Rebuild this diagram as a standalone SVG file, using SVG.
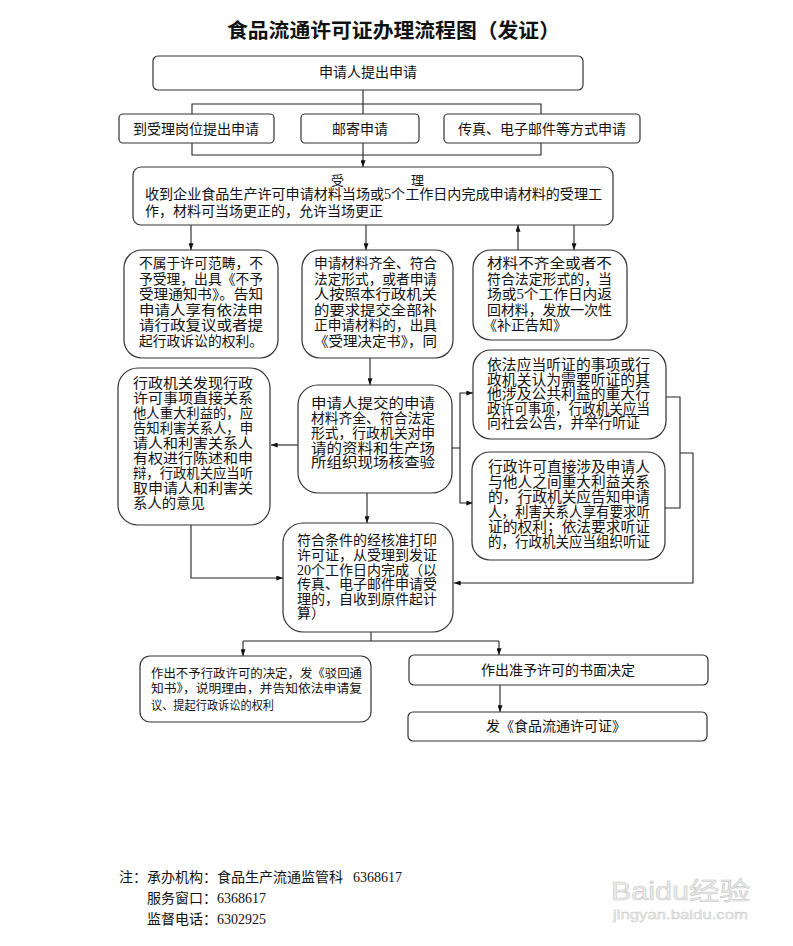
<svg xmlns="http://www.w3.org/2000/svg" width="793" height="946" viewBox="0 0 793 946">
<style>
.bx{fill:#fff;stroke:#333;stroke-width:1.2}
.t{font-family:"Liberation Serif","Noto Sans CJK SC",sans-serif;font-size:14px;fill:#111}
.c{text-anchor:middle}
.ln{fill:none;stroke:#222;stroke-width:1.1}
.wm{font-family:"Liberation Sans","Noto Sans CJK SC",sans-serif;fill:#eee;stroke:#c8c8c8;stroke-width:0.6}
</style>
<defs>
<marker id="ah" viewBox="0 0 8 6" refX="8" refY="3" markerWidth="7" markerHeight="5" orient="auto" markerUnits="userSpaceOnUse"><path d="M0,0 L8,3 L0,6 z" fill="#111"/></marker>
</defs>
<rect width="793" height="946" fill="#fff"/>
<text id="title" x="227" y="38" class="t" style="font-size:20px;font-weight:bold" textLength="333" lengthAdjust="spacingAndGlyphs">食品流通许可证办理流程图（发证）</text>

<g id="connectors">
<path class="ln" d="M363,90 V104 M192,114 V104 H541 V114 M363,104 V114"/>
<path class="ln" d="M192,143 V155 H541 V143"/>
<path class="ln" d="M363,143 V167" marker-end="url(#ah)"/>
<path class="ln" d="M191,225 V250" marker-end="url(#ah)"/>
<path class="ln" d="M366,225 V250" marker-end="url(#ah)"/>
<path class="ln" d="M518,250 V225" marker-end="url(#ah)"/>
<path class="ln" d="M574,225 V250" marker-end="url(#ah)"/>
<path class="ln" d="M370,358 V385" marker-end="url(#ah)"/>
<path class="ln" d="M298,445 H271" marker-end="url(#ah)"/>
<path class="ln" d="M452,448 H460"/>
<path class="ln" d="M460,448 V393 H473" marker-end="url(#ah)"/>
<path class="ln" d="M460,448 V503 H473" marker-end="url(#ah)"/>
<path class="ln" d="M666,397 H680 V508 H664"/>
<path class="ln" d="M680,453 H693 V583 H454" marker-end="url(#ah)"/>
<path class="ln" d="M191,525 V578 H283" marker-end="url(#ah)"/>
<path class="ln" d="M367,493 V523" marker-end="url(#ah)"/>
<path class="ln" d="M371,632 V641"/>
<path class="ln" d="M243,641 H499"/>
<path class="ln" d="M243,641 V656" marker-end="url(#ah)"/>
<path class="ln" d="M499,641 V655" marker-end="url(#ah)"/>
<path class="ln" d="M500,685 V712" marker-end="url(#ah)"/>
</g>

<g id="n-apply">
<rect class="bx" x="153" y="56" width="430" height="34" rx="5"/>
<text class="t c" x="368" y="77">申请人提出申请</text>
</g>
<g id="n-onsite">
<rect class="bx" x="119" y="114" width="155" height="29" rx="4"/>
<text class="t c" x="196" y="134">到受理岗位提出申请</text>
</g>
<g id="n-mail">
<rect class="bx" x="301" y="114" width="118" height="29" rx="4"/>
<text class="t c" x="360" y="134">邮寄申请</text>
</g>
<g id="n-fax">
<rect class="bx" x="444" y="114" width="196" height="29" rx="4"/>
<text class="t c" x="542" y="134">传真、电子邮件等方式申请</text>
</g>

<g id="n-accept">
<rect class="bx" x="133" y="167" width="480" height="58" rx="8"/>
<text class="t" style="font-size:13px" y="185"><tspan x="331">受</tspan><tspan x="411">理</tspan></text>
<text class="t" x="145" y="199" textLength="457" lengthAdjust="spacingAndGlyphs">收到企业食品生产许可申请材料当场或5个工作日内完成申请材料的受理工</text>
<text class="t" x="145" y="216">作，材料可当场更正的，允许当场更正</text>
</g>

<g id="n-reject">
<rect class="bx" x="124" y="250" width="154" height="108" rx="18"/>
<g class="t">
<text x="139" y="268" textLength="124" lengthAdjust="spacingAndGlyphs">不属于许可范畴，不</text>
<text x="139" y="283.5" textLength="124" lengthAdjust="spacingAndGlyphs">予受理，出具《不予</text>
<text x="139" y="299" textLength="124" lengthAdjust="spacingAndGlyphs">受理通知书》。告知</text>
<text x="139" y="314.5" textLength="124" lengthAdjust="spacingAndGlyphs">申请人享有依法申</text>
<text x="139" y="330" textLength="124" lengthAdjust="spacingAndGlyphs">请行政复议或者提</text>
<text x="139" y="345.5" textLength="124" lengthAdjust="spacingAndGlyphs">起行政诉讼的权利。</text>
</g>
</g>

<g id="n-complete">
<rect class="bx" x="302" y="250" width="151" height="108" rx="18"/>
<g class="t">
<text x="314" y="268" textLength="123" lengthAdjust="spacingAndGlyphs">申请材料齐全、符合</text>
<text x="314" y="283.5" textLength="123" lengthAdjust="spacingAndGlyphs">法定形式，或者申请</text>
<text x="314" y="299" textLength="123" lengthAdjust="spacingAndGlyphs">人按照本行政机关</text>
<text x="314" y="314.5" textLength="123" lengthAdjust="spacingAndGlyphs">的要求提交全部补</text>
<text x="314" y="330" textLength="123" lengthAdjust="spacingAndGlyphs">正申请材料的，出具</text>
<text x="314" y="345.5" textLength="123" lengthAdjust="spacingAndGlyphs">《受理决定书》，同</text>
</g>
</g>

<g id="n-incomplete">
<rect class="bx" x="473" y="250" width="154" height="90" rx="18"/>
<g class="t">
<text x="487" y="268" textLength="125" lengthAdjust="spacingAndGlyphs">材料不齐全或者不</text>
<text x="487" y="283.5" textLength="125" lengthAdjust="spacingAndGlyphs">符合法定形式的，当</text>
<text x="487" y="299" textLength="125" lengthAdjust="spacingAndGlyphs">场或5个工作日内返</text>
<text x="487" y="314.5" textLength="125" lengthAdjust="spacingAndGlyphs">回材料，发放一次性</text>
<text x="483" y="330">《补正告知》</text>
</g>
</g>

<g id="n-stakeholder">
<rect class="bx" x="118" y="368" width="152" height="157" rx="20"/>
<g class="t">
<text x="133" y="388" textLength="120" lengthAdjust="spacingAndGlyphs">行政机关发现行政</text>
<text x="133" y="403" textLength="120" lengthAdjust="spacingAndGlyphs">许可事项直接关系</text>
<text x="133" y="418" textLength="120" lengthAdjust="spacingAndGlyphs">他人重大利益的，应</text>
<text x="133" y="433" textLength="120" lengthAdjust="spacingAndGlyphs">告知利害关系人，申</text>
<text x="133" y="448" textLength="120" lengthAdjust="spacingAndGlyphs">请人和利害关系人</text>
<text x="133" y="463" textLength="120" lengthAdjust="spacingAndGlyphs">有权进行陈述和申</text>
<text x="133" y="478" textLength="120" lengthAdjust="spacingAndGlyphs">辩，行政机关应当听</text>
<text x="133" y="493" textLength="120" lengthAdjust="spacingAndGlyphs">取申请人和利害关</text>
<text x="133" y="508" textLength="72" lengthAdjust="spacingAndGlyphs">系人的意见</text>
</g>
</g>

<g id="n-verify">
<rect class="bx" x="298" y="385" width="154" height="108" rx="20"/>
<g class="t">
<text x="311" y="408" textLength="124" lengthAdjust="spacingAndGlyphs">申请人提交的申请</text>
<text x="311" y="423" textLength="124" lengthAdjust="spacingAndGlyphs">材料齐全、符合法定</text>
<text x="311" y="438" textLength="124" lengthAdjust="spacingAndGlyphs">形式，行政机关对申</text>
<text x="311" y="452.5" textLength="124" lengthAdjust="spacingAndGlyphs">请的资料和生产场</text>
<text x="311" y="467" textLength="124" lengthAdjust="spacingAndGlyphs">所组织现场核查验</text>
</g>
</g>

<g id="n-hearing-public">
<rect class="bx" x="473" y="350" width="193" height="89" rx="18"/>
<g class="t" style="font-size:14.5px">
<text x="487" y="370" textLength="163" lengthAdjust="spacingAndGlyphs">依法应当听证的事项或行</text>
<text x="487" y="384.5" textLength="163" lengthAdjust="spacingAndGlyphs">政机关认为需要听证的其</text>
<text x="487" y="399" textLength="163" lengthAdjust="spacingAndGlyphs">他涉及公共利益的重大行</text>
<text x="487" y="413.5" textLength="163" lengthAdjust="spacingAndGlyphs">政许可事项，行政机关应当</text>
<text x="487" y="428" textLength="153" lengthAdjust="spacingAndGlyphs">向社会公告，并举行听证</text>
</g>
</g>

<g id="n-hearing-party">
<rect class="bx" x="472" y="452" width="193" height="108" rx="18"/>
<g class="t" style="font-size:14.5px">
<text x="488" y="472" textLength="162" lengthAdjust="spacingAndGlyphs">行政许可直接涉及申请人</text>
<text x="488" y="487" textLength="162" lengthAdjust="spacingAndGlyphs">与他人之间重大利益关系</text>
<text x="488" y="502" textLength="162" lengthAdjust="spacingAndGlyphs">的，行政机关应告知申请</text>
<text x="488" y="517" textLength="162" lengthAdjust="spacingAndGlyphs">人，利害关系人享有要求听</text>
<text x="488" y="532" textLength="162" lengthAdjust="spacingAndGlyphs">证的权利；依法要求听证</text>
<text x="488" y="547" textLength="162" lengthAdjust="spacingAndGlyphs">的，行政机关应当组织听证</text>
</g>
</g>

<g id="n-print">
<rect class="bx" x="283" y="523" width="170" height="109" rx="20"/>
<g class="t">
<text x="297" y="545" textLength="140" lengthAdjust="spacingAndGlyphs">符合条件的经核准打印</text>
<text x="297" y="560" textLength="140" lengthAdjust="spacingAndGlyphs">许可证，从受理到发证</text>
<text x="297" y="574.5" textLength="140" lengthAdjust="spacingAndGlyphs">20个工作日内完成（以</text>
<text x="297" y="589" textLength="140" lengthAdjust="spacingAndGlyphs">传真、电子邮件申请受</text>
<text x="297" y="603.5" textLength="140" lengthAdjust="spacingAndGlyphs">理的，自收到原件起计</text>
<text x="297" y="618">算）</text>
</g>
</g>

<g id="n-deny">
<rect class="bx" x="140" y="656" width="231" height="66" rx="10"/>
<g class="t" style="font-size:12px">
<text x="151" y="677.5" textLength="211" lengthAdjust="spacingAndGlyphs">作出不予行政许可的决定，发《驳回通</text>
<text x="151" y="693" textLength="211" lengthAdjust="spacingAndGlyphs">知书》，说明理由，并告知依法申请复</text>
<text x="151" y="709.5" textLength="123" lengthAdjust="spacingAndGlyphs">议、提起行政诉讼的权利</text>
</g>
</g>

<g id="n-approve">
<rect class="bx" x="409" y="655" width="299" height="30" rx="5"/>
<text class="t c" x="558" y="674.5">作出准予许可的书面决定</text>
</g>
<g id="n-issue">
<rect class="bx" x="408" y="712" width="299" height="29" rx="5"/>
<text class="t c" x="556" y="731">发《食品流通许可证》</text>
</g>

<g id="note" class="t">
<text x="119" y="882">注：承办机构：食品生产流通监管科<tspan x="353">6368617</tspan></text>
<text x="147" y="903">服务窗口：6368617</text>
<text x="147" y="924">监督电话：6302925</text>
</g>

<g id="watermark">
<text class="wm" x="611" y="900" style="font-size:25px" textLength="139" lengthAdjust="spacingAndGlyphs">Baidu经验</text>
<text class="wm" x="613" y="919" style="font-size:13px;stroke-width:0.4" textLength="135" lengthAdjust="spacingAndGlyphs">jingyan.baidu.com</text>
</g>
</svg>
